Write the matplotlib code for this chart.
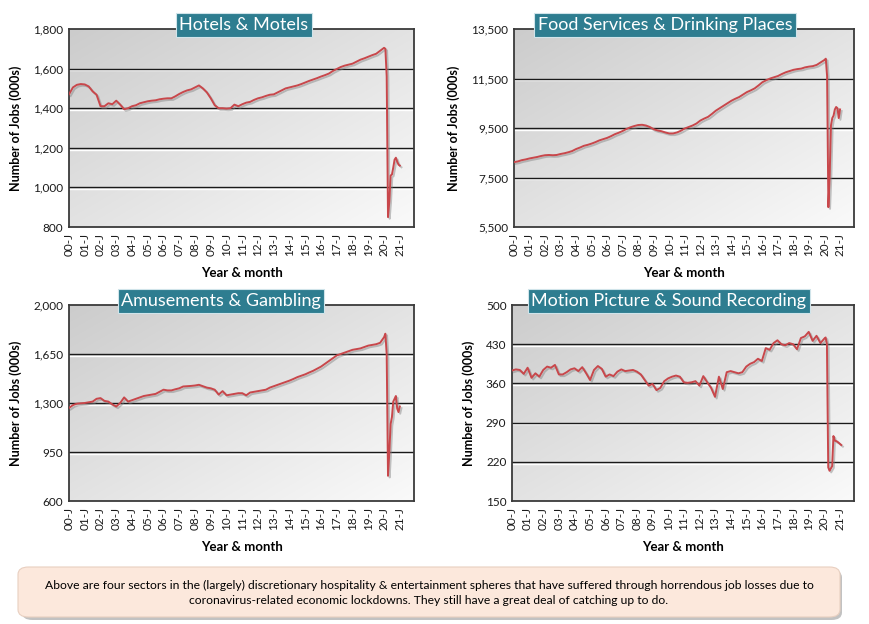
import numpy as np
import matplotlib
matplotlib.use("Agg")
import matplotlib.pyplot as plt
import matplotlib.patheffects as pe
from matplotlib.patches import FancyBboxPatch

# quarterly readings 2000Q1..2019Q4, then monthly from Jan 2020
hotels_q = [1470, 1505, 1518, 1522, 1520, 1510, 1485, 1468, 1410, 1410, 1425, 1420,
            1438, 1418, 1395, 1400, 1410, 1415, 1425, 1430, 1435, 1438, 1440, 1445,
            1448, 1450, 1450, 1460, 1472, 1482, 1490, 1495, 1505, 1515, 1500, 1480,
            1450, 1415, 1400, 1400, 1398, 1400, 1418, 1410, 1420, 1428, 1432, 1442,
            1450, 1455, 1462, 1468, 1470, 1480, 1490, 1500, 1505, 1510, 1515, 1522,
            1530, 1538, 1545, 1552, 1560, 1567, 1575, 1588, 1598, 1608, 1615, 1620,
            1625, 1635, 1645, 1652, 1660, 1668, 1675, 1690]
hotels_m = [1705, 1700, 1560, 850, 930, 1060, 1065, 1100, 1140, 1150, 1130, 1115, 1110]

food_q = [8120, 8150, 8200, 8230, 8270, 8300, 8330, 8370, 8400, 8410, 8400, 8410,
          8450, 8480, 8520, 8570, 8650, 8710, 8780, 8820, 8870, 8930, 9000, 9050,
          9100, 9170, 9250, 9310, 9380, 9460, 9530, 9580, 9620, 9630, 9600, 9540,
          9450, 9400, 9370, 9320, 9280, 9280, 9320, 9390, 9480, 9540, 9600, 9680,
          9800, 9880, 9950, 10070, 10200, 10300, 10400, 10500, 10600, 10680, 10750, 10850,
          10950, 11020, 11100, 11220, 11350, 11430, 11500, 11550, 11600, 11680, 11750, 11800,
          11850, 11880, 11900, 11950, 11980, 12000, 12050, 12150]
food_m = [12250, 12300, 11600, 6300, 7600, 9600, 9900, 10000, 10250, 10350, 10300, 9900, 10250]

amuse_q = [1265, 1285, 1295, 1298, 1300, 1305, 1310, 1330, 1335, 1315, 1310, 1290,
           1275, 1300, 1340, 1310, 1320, 1330, 1340, 1350, 1355, 1360, 1365, 1380,
           1395, 1390, 1390, 1398, 1405, 1418, 1420, 1422, 1425, 1430, 1420, 1410,
           1405, 1395, 1360, 1385, 1355, 1360, 1365, 1370, 1370, 1355, 1375, 1380,
           1385, 1390, 1395, 1410, 1420, 1430, 1440, 1450, 1460, 1472, 1485, 1495,
           1505, 1518, 1530, 1545, 1560, 1580, 1600, 1620, 1640, 1650, 1660, 1670,
           1680, 1685, 1690, 1700, 1710, 1715, 1720, 1730]
amuse_m = [1770, 1795, 1650, 780, 950, 1150, 1200, 1310, 1330, 1350, 1260, 1235, 1275]

motion_q = [383, 385, 384, 377, 388, 370, 378, 372, 384, 390, 388, 393,
            376, 376, 380, 385, 387, 382, 389, 378, 366, 384, 391, 386,
            372, 376, 373, 381, 385, 382, 383, 384, 381, 376, 366, 356,
            359, 348, 352, 364, 369, 372, 374, 372, 362, 361, 362, 364,
            356, 373, 362, 352, 336, 372, 350, 380, 382, 380, 378, 380,
            390, 395, 398, 404, 400, 423, 420, 432, 437, 430, 428, 432,
            430, 421, 441, 444, 452, 436, 445, 432]
motion_m = [440, 442, 430, 210, 204, 208, 212, 266, 258, 257, 256, 254, 252, 250]

titles = ["Hotels & Motels", "Food Services & Drinking Places",
          "Amusements & Gambling", "Motion Picture & Sound Recording"]
yticks = [np.arange(800, 1801, 200), np.arange(5500, 13501, 2000),
          np.arange(600, 2001, 350), np.arange(150, 501, 70)]
xtick_labels = [f"{y:02d}-J" for y in range(0, 22)]
note = ("Above are four sectors in the (largely) discretionary hospitality & entertainment spheres "
        "that have suffered through horrendous job losses due to\ncoronavirus-related economic "
        "lockdowns. They still have a great deal of catching up to do.")

plt.rcParams['font.family'] = ['Lato', 'DejaVu Sans']

W, H = 870, 624
fig = plt.figure(figsize=(W / 100, H / 100), dpi=100)

# pixel boxes: left, top, right, bottom ; title centre x
boxes = [(69, 29, 414, 227, 244), (514, 29, 854, 227, 665),
         (69, 305, 414, 501, 221), (512, 305, 854, 501, 669)]
series = [(hotels_q, hotels_m), (food_q, food_m), (amuse_q, amuse_m), (motion_q, motion_m)]

# light grey diagonal gradient, darker at top-left
g = np.add.outer(np.linspace(0, 1, 100), np.linspace(0, 1, 100)) / 2
shade = 0.80 + 0.18 * g
grad = np.dstack([shade, shade, shade])

for (l, t, r, b, tx), (q, m), title, yt in zip(boxes, series, titles, yticks):
    ax = fig.add_axes([l / W, 1 - b / H, (r - l) / W, (b - t) / H])
    x = np.concatenate([np.arange(len(q)) * 0.25, 20 + np.arange(len(m)) / 12])
    y = np.concatenate([q, m])

    ax.imshow(grad, extent=[0, 1, 0, 1], transform=ax.transAxes, aspect='auto',
              zorder=0, interpolation='bicubic')
    for v in yt[1:-1]:
        ax.axhline(v, color='#1a1a1a', lw=1.0, zorder=1,
                   path_effects=[pe.SimpleLineShadow(offset=(0, -1.3), shadow_color='white', alpha=1),
                                 pe.Normal()])
    ax.plot(x, y, color='#c8474b', lw=1.4, zorder=3,
            path_effects=[pe.SimpleLineShadow(offset=(1.2, -1.2), shadow_color='#808080', alpha=0.45),
                          pe.Normal()])

    ax.set_xlim(0, 21.9)
    ax.set_ylim(yt[0], yt[-1])
    ax.set_yticks(yt)
    ax.set_yticklabels([f"{v:,}" for v in yt])
    ax.set_xticks(np.arange(22))
    ax.set_xticklabels(xtick_labels, rotation=90)
    ax.tick_params(length=0, labelsize=8.5, colors='#1a1a1a', pad=4)
    for s in ax.spines.values():
        s.set_color('#3a3a3a')
        s.set_linewidth(1.3)
    ax.set_ylabel("Number of Jobs (000s)", fontsize=9, fontweight='bold', labelpad=8)
    ax.set_xlabel("Year & month", fontsize=9.5, fontweight='bold', labelpad=8)

    fig.text(tx / W, 1 - (t - 4) / H, title, ha='center', va='center', color='white',
             fontsize=13, zorder=10,
             bbox=dict(boxstyle='square,pad=0.2', fc='#2e7d90', ec='#d0e4ea', lw=0.8))

# note box with shadow
shadow = FancyBboxPatch((22 / W, 1 - 620 / H), 820 / W, 50 / H,
                        boxstyle='round,pad=0,rounding_size=0.012', transform=fig.transFigure,
                        fc='#9a9a9a', ec='none', alpha=0.6, zorder=1)
box = FancyBboxPatch((18 / W, 1 - 617 / H), 822 / W, 50 / H,
                     boxstyle='round,pad=0,rounding_size=0.012', transform=fig.transFigure,
                     fc='#fce8dc', ec='#e8cfc0', lw=0.8, zorder=2)
fig.patches.extend([shadow, box])
fig.text(429 / W, 1 - 593 / H, note, ha='center', va='center', fontsize=8.7,
         family=['Liberation Sans Narrow', 'Lato', 'DejaVu Sans'], linespacing=1.55, zorder=3)

fig.savefig("out.png", dpi=100)
